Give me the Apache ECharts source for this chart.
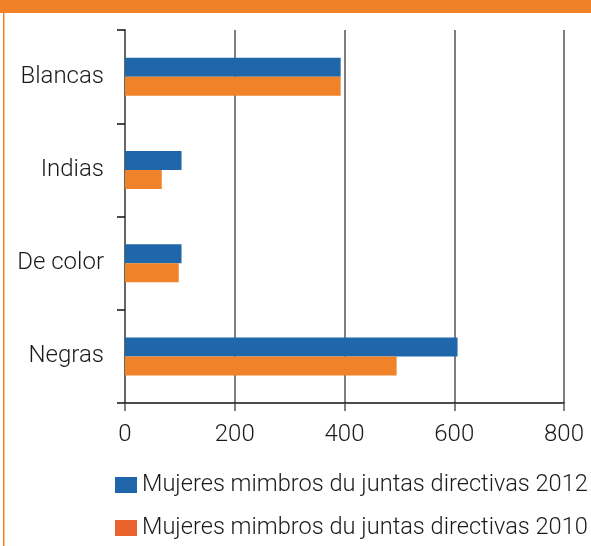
<!DOCTYPE html>
<html>
<head>
<meta charset="utf-8">
<script src="https://cdn.jsdelivr.net/npm/echarts@6/dist/echarts.min.js"></script>
<style>
  html, body { margin: 0; padding: 0; background: #fff; }
  #chart { width: 591px; height: 546px; }
</style>
</head>
<body>
<div id="chart"></div>
<script>
const categorias = ['Blancas', 'Indias', 'De color', 'Negras'];
const serie2012 = [393, 103, 103, 606];
const serie2010 = [393, 67, 98, 495];
const nombres = [
  'Mujeres mimbros du juntas directivas 2012',
  'Mujeres mimbros du juntas directivas 2010'
];
const ticksX = [0, 200, 400, 600, 800];

const azul = '#1f67aa';
const naranja = '#f0822a';
const fuente = 'Roboto';

const myChart = echarts.init(document.getElementById('chart'));

const option = {
  backgroundColor: '#fff',
  animation: false,
  textStyle: { fontFamily: fuente, fontWeight: 300 },
  grid: { left: 125, right: 27, top: 30, bottom: 143, containLabel: false },
  legend: {
    orient: 'vertical',
    left: 110,
    top: 468,
    itemWidth: 22,
    itemHeight: 16,
    itemGap: 19,
    icon: 'rect',
    textStyle: { fontSize: 23.6, lineHeight: 23, color: '#1a1a1a', fontFamily: fuente, fontWeight: 300 },
    data: [
      { name: nombres[0], itemStyle: { color: azul } },
      { name: nombres[1], itemStyle: { color: '#e9642c' } }
    ]
  },
  xAxis: {
    type: 'value',
    min: ticksX[0],
    max: ticksX[ticksX.length - 1],
    interval: 200,
    axisLine: { show: true, lineStyle: { color: '#111', width: 1.5 } },
    axisTick: { show: true, length: 8, lineStyle: { color: '#555', width: 1.5 } },
    axisLabel: { fontSize: 24, fontWeight: 300, color: '#1a1a1a', margin: 20 },
    splitLine: { show: true, lineStyle: { color: '#555', width: 1.5 } }
  },
  yAxis: {
    type: 'category',
    inverse: true,
    data: categorias,
    axisLine: { show: true, lineStyle: { color: '#666', width: 2 } },
    axisTick: { show: true, length: 8, lineStyle: { color: '#111', width: 1.5 } },
    axisLabel: { fontSize: 24, fontWeight: 300, color: '#1a1a1a', margin: 21 }
  },
  series: [
    {
      name: nombres[0],
      type: 'bar',
      data: serie2012,
      barWidth: 19,
      barGap: '0%',
      itemStyle: { color: azul }
    },
    {
      name: nombres[1],
      type: 'bar',
      data: serie2010,
      barWidth: 19,
      barGap: '0%',
      itemStyle: { color: naranja }
    }
  ],
  graphic: [
    {
      type: 'rect',
      left: 0,
      top: 0,
      shape: { width: 591, height: 13 },
      style: { fill: '#f08127' }
    },
    {
      type: 'rect',
      left: 3,
      top: 0,
      shape: { width: 1.5, height: 546 },
      style: { fill: '#f08127' }
    }
  ]
};

myChart.setOption(option);
</script>
</body>
</html>
